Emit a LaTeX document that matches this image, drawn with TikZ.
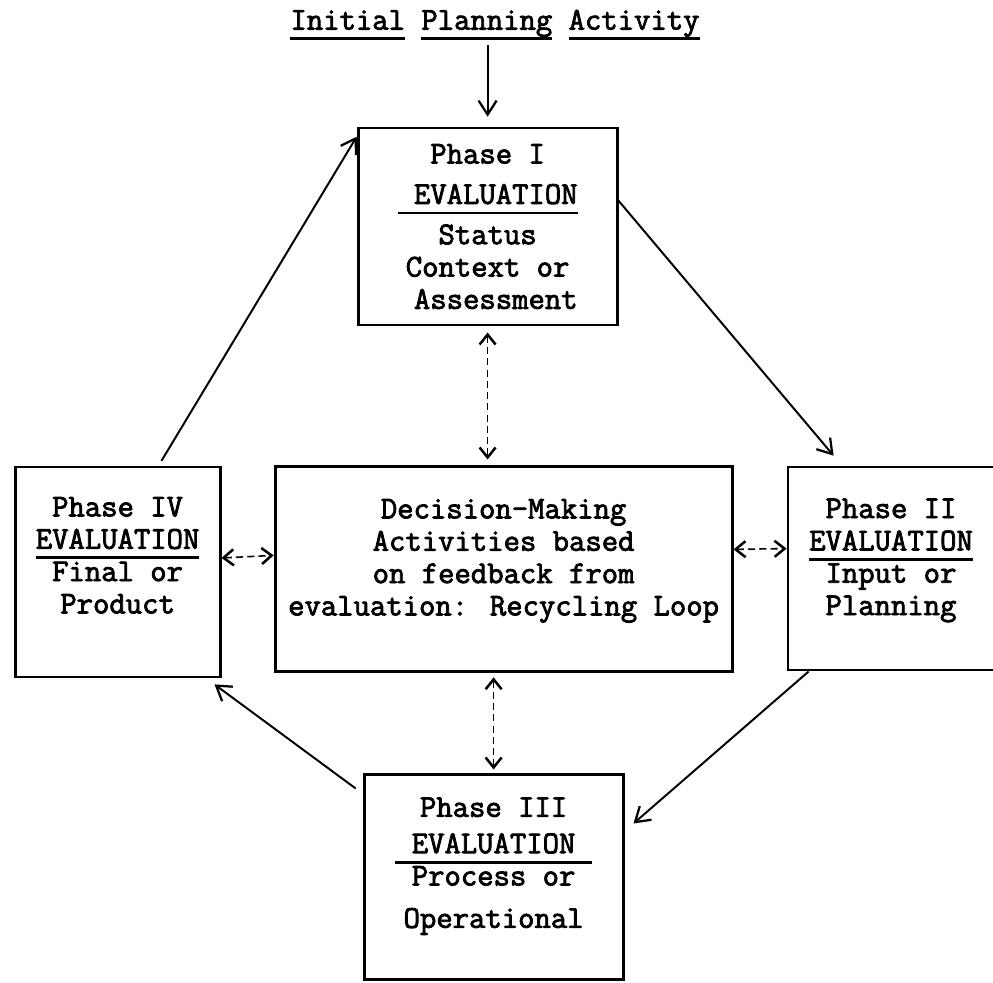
\documentclass[tikz,border=0pt]{standalone}
\usepackage{fontspec}
\setmainfont{Latin Modern Mono}[FakeBold=2.5]
\usepackage{tikz}
\usetikzlibrary{positioning,arrows.meta}

% typed underline: a heavy rule a little below the baseline
\newcommand{\typeul}[1]{\setbox0=\hbox{#1}\rlap{\rule[-7.5pt]{\wd0}{2pt}}\box0\relax}
% blank line at the foot of a box, to lift the text
\newcommand{\footgap}[1]{\\[#1]\mbox{}}

\begin{document}
\begin{tikzpicture}[font=\fontsize{22.6}{23}\selectfont,
    box/.style={draw, line width=2pt, align=center, inner sep=0pt},
    flow/.style={-{Straight Barb[length=0.35cm,width=0.45cm,line width=1.6pt]}, line width=1.4pt},
    fb/.style={{Straight Barb[length=0.25cm,width=0.4cm,line width=1.8pt]}-{Straight Barb[length=0.25cm,width=0.4cm,line width=1.8pt]},
               line width=1.1pt, dash pattern=on 5pt off 3pt}]

\useasboundingbox (0,0) rectangle (24.825,24.575);

% ── Title ───────────────────────────────────────────
\node (title) at (12.375, 23.95) {\typeul{Initial} \typeul{Planning} \typeul{Activity}};

% ── Phase boxes ─────────────────────────────────────
\node[box, minimum width=6.475cm, minimum height=4.925cm] (p1) at (12.19, 18.91)
    {Phase I\\[0.2cm] \typeul{\ EVALUATION}\\[0.2cm] Status\\ Context or\\ \ Assessment};

\node[box, minimum width=5.15cm, minimum height=5.075cm] (p2) at (22.275, 10.36)
    {Phase II\\ \typeul{EVALUATION}\\ Input or\\ Planning\footgap{-0.22cm}};

\node[box, minimum width=6.475cm, minimum height=5.125cm] (p3) at (12.34, 2.64)
    {Phase III\\[0.1cm] \typeul{\ EVALUATION\ }\\ Process or\\[0.25cm] Operational\footgap{-0.07cm}};

\node[box, minimum width=5.125cm, minimum height=5.25cm] (p4) at (2.94, 10.275)
    {Phase IV\\ \typeul{EVALUATION}\\ Final or\\ Product\footgap{0.03cm}};

% Decision-making box in the middle
\node[box, minimum width=11.425cm, minimum height=5.125cm] (dm) at (12.59, 10.34)
    {Decision-Making\\ Activities based\\ on feedback from\\ evaluation: Recycling Loop\footgap{-0.2cm}};

% ── Cycle arrows ────────────────────────────────────
\draw[flow] (p1.north |- title.south) -- ([yshift=0.25cm]p1.north);
\draw[flow] ([yshift=-1.85cm]p1.north east) -- ([xshift=1.175cm,yshift=0.25cm]p2.north west);
\draw[flow] ([xshift=0.55cm]p2.south west) -- ([xshift=0.225cm,yshift=-1.25cm]p3.north east);
\draw[flow] ([xshift=-0.175cm,yshift=-0.375cm]p3.north west) -- ([xshift=-0.175cm,yshift=-0.15cm]p4.south east);
\draw[flow] ([xshift=-1.5cm,yshift=0.12cm]p4.north east) -- ([yshift=-0.25cm]p1.north west);

% ── Feedback (dashed) ───────────────────────────────
\draw[fb] ([yshift=-0.15cm]p1.south) -- ([yshift=0.15cm]p1.south |- dm.north);
\draw[fb] ([yshift=0.35cm]p4.east) -- ([yshift=0.35cm]dm.west);
\draw[fb] ([yshift=0.5cm]dm.east) -- ([yshift=0.5cm]p2.west);
\draw[fb] ([yshift=-0.1cm]p3.north |- dm.south) -- ([yshift=0.1cm]p3.north);

\end{tikzpicture}
\end{document}
